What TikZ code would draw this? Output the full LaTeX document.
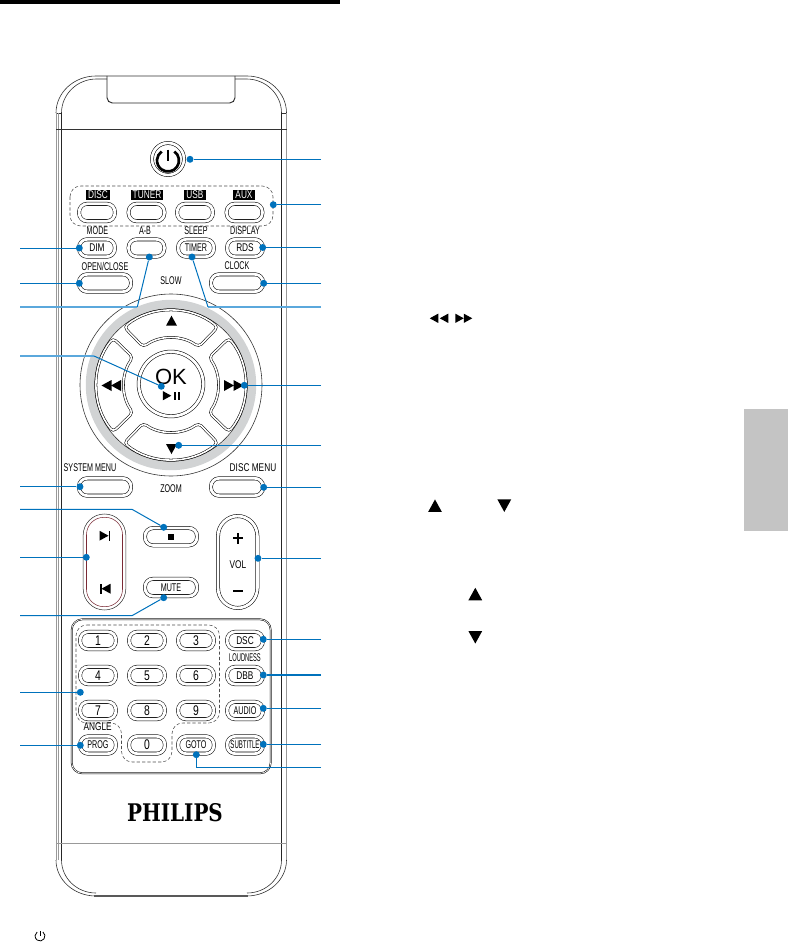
\documentclass[tikz,border=0pt]{standalone}
\usepackage{fontspec}
\setmainfont{Liberation Sans}
\newfontfamily\keyfont[FakeStretch=0.64]{Liberation Sans}
\newfontfamily\widekeyfont[FakeStretch=0.74]{Liberation Sans}
\newfontfamily\logofont[FakeStretch=0.82]{DejaVu Serif}
\definecolor{leaderblue}{HTML}{0072BC}
\definecolor{leaderpale}{HTML}{5BA8DC}
\definecolor{ringgrey}{HTML}{D1D3D4}
\definecolor{tabgrey}{HTML}{C4C4C4}
\definecolor{keyred}{HTML}{7A2A35}
\usetikzlibrary{arrows.meta, positioning, calc}
\begin{document}
\begin{tikzpicture}[x=0.75pt, y=0.75pt,
    shell/.style={line width=0.45pt, black!80},
    shellgrey/.style={line width=0.6pt, black!40},
    keyline/.style={draw, line width=0.4pt, double=white, double distance=2.1pt, rounded corners=6pt},
    smallkey/.style={keyline, inner sep=0pt, minimum width=26.8pt, minimum height=13pt},
    widekey/.style={keyline, inner sep=0pt, minimum width=39pt, minimum height=13pt},
    pillkey/.style={keyline, inner sep=0pt, rounded corners=15pt, minimum width=29.5pt, minimum height=69pt},
    keytext/.style={inner sep=0pt, font=\keyfont\fontsize{8.4}{9}\selectfont},
    widetext/.style={inner sep=0pt, font=\widekeyfont\fontsize{8.4}{9}\selectfont},
    numtext/.style={inner sep=0pt, font=\widekeyfont\fontsize{10.5}{11}\selectfont},
    blacktext/.style={widetext, fill=black, text=white, inner xsep=1.6pt, inner ysep=0pt, minimum height=7.5pt},
    groupline/.style={line width=0.4pt, black!70, dash pattern=on 2.4pt off 1.6pt, rounded corners=8pt},
    dotmark/.style={circle, fill=leaderblue, inner sep=0pt, minimum size=5.2pt},
    leader/.style={leaderblue, line width=0.75pt},
    paleleader/.style={leaderpale, line width=1.1pt},
    tri/.pic={\fill (-5.5,-5) -- (5.5,-5) -- (0,5) -- cycle;},
    petal/.pic={\draw[line width=0.4pt, double=white, double distance=1.2pt, rounded corners=3pt]
      (51:74.5) arc[start angle=51, end angle=129, radius=74.5] -- (126:47)
      arc[start angle=126, end angle=54, radius=47] -- cycle;},
    powermark/.pic={\draw[line width=2pt] (0,11) -- (0,0);
      \draw[line width=2pt] (55:11) arc[start angle=55, end angle=-235, radius=11];}
  ]
    \useasboundingbox (0,0) rectangle (788,-942);

    % Page furniture
    \fill (0,0) rectangle (340,-4);
    \fill[tabgrey] (744,-409) rectangle (788,-531);

    % Remote body
    \draw[shell] (56,-113) arc[start angle=180, end angle=90, x radius=40, y radius=37] -- (247,-76)
      arc[start angle=90, end angle=0, x radius=39.5, y radius=37];
    \draw[shell] (61.5,-113) arc[start angle=180, end angle=90, x radius=35, y radius=34] -- (107,-79);
    \draw[shell] (281.5,-113) arc[start angle=0, end angle=90, x radius=35, y radius=34] -- (235,-79);
    \draw[shell] (56,-113) -- (61.5,-113);
    \draw[shell] (281.5,-113) -- (286.5,-113);
    \draw[shellgrey] (56,-113) -- (56,-860);
    \draw[shellgrey] (58,-113) -- (58,-860);
    \draw[shellgrey] (286.5,-113) -- (286.5,-860);
    \draw[line width=0.7pt, black!85] (61.5,-113) -- (61.5,-860);
    \draw[line width=0.7pt, black!85] (281.5,-113) -- (281.5,-860);
    \draw[line width=0.7pt, rounded corners=4pt, black!85] (107,-76) -- (107,-103) -- (235,-103) -- (235,-76);
    \draw[shell] (56,-129) -- (286.5,-129);
    \draw[shellgrey] (56,-843) -- (286.5,-843);
    \draw[shell] (56,-860) arc[start angle=180, end angle=270, x radius=40, y radius=36];
    \draw[shell] (61.5,-860) arc[start angle=180, end angle=270, x radius=34.5, y radius=33];
    \draw[shell] (286.5,-860) arc[start angle=0, end angle=-90, x radius=40, y radius=36];
    \draw[shell] (281.5,-860) arc[start angle=0, end angle=-90, x radius=34.5, y radius=33];
    \draw[line width=1.1pt, black!65] (94,-896) -- (248,-896);

    % Power key
    \node[circle, draw, line width=0.4pt, double=white, double distance=2pt, inner sep=0pt, minimum size=24pt] (powerkey) at (168,-159) {};
    \pic at (168,-160.5) {powermark};

    % Source keys
    \draw[groupline] (70,-186) rectangle (273,-226);
    \node[blacktext] (disclab) at (98,-195) {DISC};
    \node[blacktext] (tunerlab) at (147,-195) {TUNER};
    \node[blacktext] (usblab) at (195,-195) {USB};
    \node[blacktext] (auxlab) at (244,-195) {AUX};
    \node[smallkey] (disckey) at (97,-212.5) {};
    \node[smallkey] (tunerkey) at (146.5,-212.5) {};
    \node[smallkey] (usbkey) at (195,-212.5) {};
    \node[smallkey] (auxkey) at (244.5,-212.5) {};

    % Second and third rows
    \node[keytext] (modelab) at (97.5,-230.5) {MODE};
    \node[keytext] (ablab) at (145,-230.5) {A-B};
    \node[keytext] (sleeplab) at (196,-230.5) {SLEEP};
    \node[keytext] (displaylab) at (245,-230.5) {DISPLAY};
    \node[smallkey, widetext] (dimkey) at (97,-248) {DIM};
    \node[smallkey] (abkey) at (146.5,-248) {};
    \node[smallkey, keytext] (timerkey) at (196,-248) {TIMER};
    \node[smallkey, widetext] (rdskey) at (245,-248) {RDS};
    \node[keytext] (openlab) at (105,-266) {OPEN/CLOSE};
    \node[keytext] (clocklab) at (237,-266) {CLOCK};
    \node[widekey] (openkey) at (105,-283) {};
    \node[widekey] (clockkey) at (237,-283) {};
    \node[keytext] (slowlab) at (171,-281) {SLOW};

    % Navigation ring
    \coordinate (pad) at (171,-385);
    \draw[shell] (pad) circle[radius=91];
    \draw[line width=6.3pt, ringgrey] (pad) circle[radius=81];
    \draw[shell] (pad) circle[radius=76.3];
    \pic at (pad) {petal};
    \pic[rotate=90] at (pad) {petal};
    \pic[rotate=180] at (pad) {petal};
    \pic[rotate=270] at (pad) {petal};
    \node[circle, draw, line width=0.4pt, double=white, double distance=2.1pt, inner sep=0pt, minimum size=48.4pt] (okkey) at (171,-384) {};
    \node[inner sep=0pt, font=\fontsize{16.5}{18}\selectfont] (oklab) at (171,-376.5) {OK};
    \pic at (171.5,-320.7) {tri};
    \pic[rotate=180] at (171.5,-449) {tri};
    \pic[rotate=90] at (106.5,-385.5) {tri};
    \pic[rotate=90] at (116,-385.5) {tri};
    \pic[rotate=270] at (229,-385.5) {tri};
    \pic[rotate=270] at (238.5,-385.5) {tri};
    \pic[rotate=270, scale=0.85] at (167,-395.7) {tri};
    \fill (173.5,-391.5) rectangle (175.5,-400);
    \fill (177.5,-391.5) rectangle (179.5,-400);

    % Menu keys
    \node[keytext] (systemlab) at (90,-468) {SYSTEM MENU};
    \node[widetext] (discmenulab) at (253,-468) {DISC MENU};
    \node[widekey] (systemkey) at (105,-487) {};
    \node[widekey] (discmenukey) at (237,-487) {};
    \node[keytext] (zoomlab) at (171,-489) {ZOOM};

    % Stop, mute, skip, volume
    \node[widekey] (stopkey) at (171,-536.7) {};
    \fill (168,-533.5) rectangle (174,-539.5);
    \node[widekey, keytext] (mutekey) at (171,-587.5) {MUTE};
    \node[draw, line width=0.4pt, black!80, inner sep=0pt, rounded corners=16pt, minimum width=32pt, minimum height=72pt] (skipout) at (104.5,-562) {};
    \node[draw=keyred, line width=0.4pt, inner sep=0pt, rounded corners=13pt, minimum width=27pt, minimum height=67pt] (skipin) at (104.5,-562) {};
    \pic[rotate=270, scale=0.9] at (104,-535.7) {tri};
    \fill (108.5,-531) rectangle (110,-540.5);
    \pic[rotate=90, scale=0.9] at (106,-588.7) {tri};
    \fill (100,-584) rectangle (101.5,-593.5);
    \node[pillkey] (volkey) at (237.7,-562) {};
    \fill (236.8,-532.5) rectangle (238.8,-543.5);
    \fill (232.5,-537) rectangle (243,-539);
    \node[widetext] (vollab) at (238,-565) {VOL};
    \fill (232.5,-590) rectangle (243,-592);

    % Keypad panel
    \draw[line width=0.4pt, double=white, double distance=0.5pt, rounded corners=8pt] (71.7,-619.3) rectangle (270.7,-773.3);
    \draw[groupline] (76,-625) -- (219.5,-625) -- (219.5,-723) -- (172,-723) -- (172,-762) -- (121.5,-762) -- (121.5,-723) -- (76,-723) -- cycle;
    \node[smallkey, numtext] (key1) at (98,-640.5) {1};
    \node[smallkey, numtext] (key2) at (147,-640.5) {2};
    \node[smallkey, numtext] (key3) at (196,-640.5) {3};
    \node[smallkey, widetext] (dsckey) at (245,-640.5) {DSC};
    \node[keytext] (loudlab) at (245,-657.7) {\scalebox{0.8}[1]{LOUDNESS}};
    \node[smallkey, numtext] (key4) at (98,-675.5) {4};
    \node[smallkey, numtext] (key5) at (147,-675.5) {5};
    \node[smallkey, numtext] (key6) at (196,-675.5) {6};
    \node[smallkey, widetext] (dbbkey) at (245,-675.5) {DBB};
    \node[smallkey, numtext] (key7) at (98,-710.5) {7};
    \node[smallkey, numtext] (key8) at (147,-710.5) {8};
    \node[smallkey, numtext] (key9) at (196,-710.5) {9};
    \node[smallkey, keytext] (audiokey) at (245,-710.5) {AUDIO};
    \node[widetext] (anglelab) at (97.7,-726.7) {ANGLE};
    \node[smallkey, keytext] (progkey) at (98,-745) {PROG};
    \node[smallkey, numtext] (key0) at (147,-745) {0};
    \node[smallkey, keytext] (gotokey) at (196,-745) {GOTO};
    \node[smallkey, keytext] (subkey) at (245,-745) {\scalebox{0.85}[1]{SUBTITLE}};
    \node[inner sep=0pt, font=\logofont\bfseries\fontsize{18.2}{19}\selectfont] (logo) at (175,-812.8) {PHILIPS};

    % Free ends of the leaders, left
    \coordinate (ldim) at (20,-248);
    \coordinate (lopen) at (20,-283.3);
    \coordinate (lab) at (20,-307);
    \coordinate (labbend) at (137.3,-307);
    \coordinate (lplay) at (20,-356);
    \coordinate (lplaybend) at (94,-356);
    \coordinate (lsystem) at (20,-486.7);
    \coordinate (lstop) at (20,-509.3);
    \coordinate (lstopbend) at (132,-509.3);
    \coordinate (lskip) at (20,-557.3);
    \coordinate (lmute) at (20,-615.7);
    \coordinate (lmutebend) at (132,-615.7);
    \coordinate (lnum) at (20,-692.3);
    \coordinate (lprog) at (20,-745.3);

    % Free ends of the leaders, right
    \coordinate (rpower) at (321,-159.3);
    \coordinate (rsource) at (321,-204.7);
    \coordinate (rrds) at (321,-247.5);
    \coordinate (rclock) at (321,-283.3);
    \coordinate (rtimer) at (321,-307);
    \coordinate (rtimerbend) at (208,-307);
    \coordinate (rnext) at (321,-385.3);
    \coordinate (rdown) at (321,-445.3);
    \coordinate (rdisc) at (321,-487.3);
    \coordinate (rvol) at (321,-558.3);
    \coordinate (rdsc) at (321,-639.3);
    \coordinate (rdbb) at (321,-675);
    \coordinate (raudio) at (321,-708.3);
    \coordinate (rsub) at (321,-744.3);
    \coordinate (rgoto) at (321,-767.3);
    \coordinate (rgotobend) at (196.3,-767.3);

    % Dots
    \node[dotmark] (ddim) at (79.3,-248) {};
    \node[dotmark] (dopen) at (79.3,-283.3) {};
    \node[dotmark] (dab) at (149.3,-257) {};
    \node[dotmark] (dplay) at (161.3,-386.3) {};
    \node[dotmark] (dsystem) at (80,-486.7) {};
    \node[dotmark] (dstop) at (163.7,-527.3) {};
    \node[dotmark] (dskip) at (86.3,-557.3) {};
    \node[dotmark] (dmute) at (163.7,-597.7) {};
    \node[dotmark] (dnum) at (80.3,-692.3) {};
    \node[dotmark] (dprog) at (80.3,-745.3) {};
    \node[dotmark] (dpower) at (190,-159.3) {};
    \node[dotmark] (dsource) at (273.3,-204.7) {};
    \node[dotmark] (drds) at (262.7,-247.5) {};
    \node[dotmark] (dclock) at (263.7,-283.3) {};
    \node[dotmark] (dtimer) at (192,-257) {};
    \node[dotmark] (dnext) at (244.3,-385.3) {};
    \node[dotmark] (ddown) at (178.7,-445.3) {};
    \node[dotmark] (ddisc) at (263.7,-487.3) {};
    \node[dotmark] (dvol) at (258,-558.3) {};
    \node[dotmark] (ddsc) at (263.3,-639.3) {};
    \node[dotmark] (ddbb) at (263.3,-675) {};
    \node[dotmark] (daudio) at (263.3,-708.3) {};
    \node[dotmark] (dsub) at (263.3,-744.3) {};
    \node[dotmark] (dgoto) at (196.3,-754.7) {};

    % Leaders
    \draw[leader] (ldim) -- (ddim);
    \draw[leader] (lopen) -- (dopen);
    \draw[paleleader] (lab) -- (labbend);
    \draw[leader] (labbend) -- (dab);
    \draw[paleleader, line width=0.9pt] (lplay) -- (lplaybend);
    \draw[leader] (lplaybend) -- (dplay);
    \draw[leader] (lsystem) -- (dsystem);
    \draw[leader] (lstop) -- (lstopbend) -- (dstop);
    \draw[leader] (lskip) -- (dskip);
    \draw[leader] (lmute) -- (lmutebend) -- (dmute);
    \draw[leader] (lnum) -- (dnum);
    \draw[leader] (lprog) -- (dprog);
    \draw[leader] (rpower) -- (dpower);
    \draw[leader] (rsource) -- (dsource);
    \draw[leader] (rrds) -- (drds);
    \draw[leader] (rclock) -- (dclock);
    \draw[paleleader] (rtimer) -- (rtimerbend);
    \draw[leader] (rtimerbend) -- (dtimer);
    \draw[leader] (rnext) -- (dnext);
    \draw[leader] (rdown) -- (ddown);
    \draw[leader] (rdisc) -- (ddisc);
    \draw[leader] (rvol) -- (dvol);
    \draw[leader] (rdsc) -- (ddsc);
    \draw[leader, line width=1.2pt] (rdbb) -- (ddbb);
    \draw[leader] (raudio) -- (daudio);
    \draw[leader] (rsub) -- (dsub);
    \draw[leader] (rgoto) -- (rgotobend) -- (dgoto);

    % Symbols in the text column
    \pic[scale=0.85, rotate=90] at (434,-318.3) {tri};
    \pic[scale=0.85, rotate=90] at (444,-318.3) {tri};
    \pic[scale=0.85, rotate=270] at (459.5,-318.3) {tri};
    \pic[scale=0.85, rotate=270] at (468,-318.3) {tri};
    \pic[scale=1.25] at (435,-505.7) {tri};
    \pic[scale=1.25, rotate=180] at (504.3,-505.7) {tri};
    \pic[scale=1.25] at (475.3,-594) {tri};
    \pic[scale=1.25, rotate=180] at (475.3,-637.3) {tri};
    \begin{scope}[shift={(40,-936)}, scale=0.45]
      \draw[line width=0.6pt] (0,11) -- (0,0);
      \draw[line width=0.6pt] (55:11) arc[start angle=55, end angle=-235, radius=11];
    \end{scope}
  \end{tikzpicture}
\end{document}
